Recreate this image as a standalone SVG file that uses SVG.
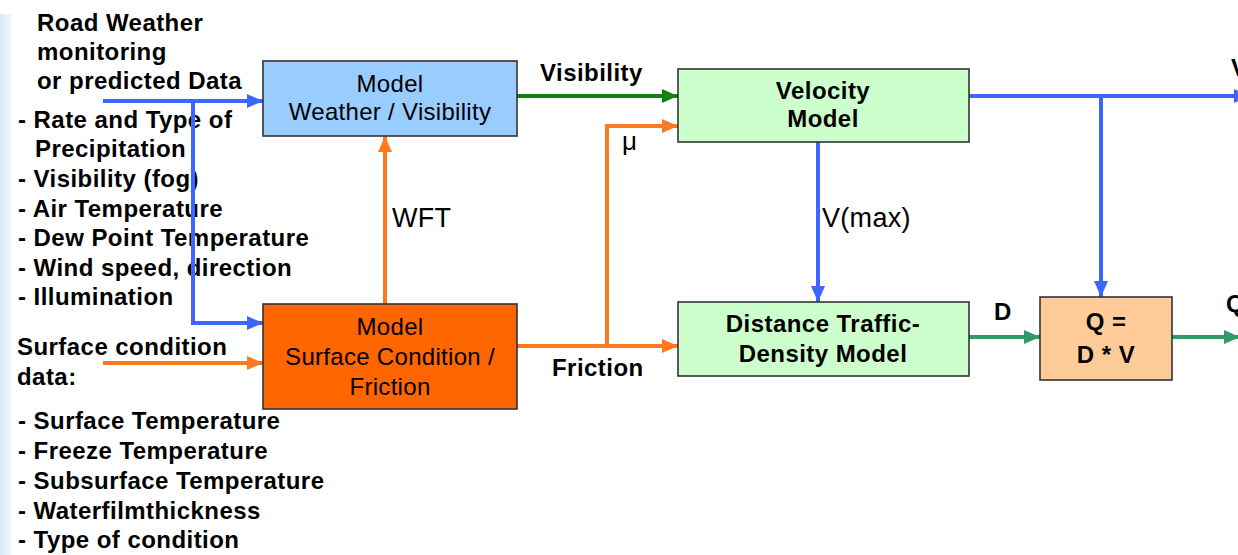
<svg xmlns="http://www.w3.org/2000/svg" width="1238" height="555" viewBox="0 0 1238 555">
<style>
.t{font-family:"Liberation Sans",Arial,sans-serif;font-size:24px;fill:#000;letter-spacing:0.3px}
.b{font-weight:bold;letter-spacing:0.45px}
.c{text-anchor:middle}
.box{stroke:#333;stroke-width:1.6}
.blue{fill:none;stroke:#3d66ff;stroke-width:4}
.org{fill:none;stroke:#ff7a1f;stroke-width:4}
.grn{fill:none;stroke:#138013;stroke-width:4}
.tea{fill:none;stroke:#339966;stroke-width:4}
</style>
<defs>
<linearGradient id="edge" x1="0" y1="0" x2="1" y2="0">
<stop offset="0" stop-color="#d3e8f7"/>
<stop offset="1" stop-color="#f4f9fd"/>
</linearGradient>
<marker id="ab" markerUnits="userSpaceOnUse" markerWidth="16" markerHeight="14" refX="16" refY="7" orient="auto"><path d="M0,0 L16,7 L0,14 z" fill="#3d66ff"/></marker>
<marker id="ao" markerUnits="userSpaceOnUse" markerWidth="16" markerHeight="14" refX="16" refY="7" orient="auto"><path d="M0,0 L16,7 L0,14 z" fill="#ff7a1f"/></marker>
<marker id="ag" markerUnits="userSpaceOnUse" markerWidth="16" markerHeight="14" refX="16" refY="7" orient="auto"><path d="M0,0 L16,7 L0,14 z" fill="#138013"/></marker>
<marker id="at" markerUnits="userSpaceOnUse" markerWidth="16" markerHeight="14" refX="16" refY="7" orient="auto"><path d="M0,0 L16,7 L0,14 z" fill="#339966"/></marker>
</defs>
<rect x="0" y="0" width="1238" height="555" fill="#fff"/>
<rect x="0" y="14" width="12" height="541" fill="url(#edge)"/>

<g id="inputs-weather">
<text class="t b" x="37" y="31">Road Weather</text>
<text class="t b" x="37" y="60">monitoring</text>
<text class="t b" x="37" y="89">or predicted Data</text>
<text class="t b" x="18" y="128">- Rate and Type of</text>
<text class="t b" x="35" y="157">Precipitation</text>
<text class="t b" x="18" y="187">- Visibility (fog)</text>
<text class="t b" x="18" y="217">- Air Temperature</text>
<text class="t b" x="18" y="246">- Dew Point Temperature</text>
<text class="t b" x="18" y="276">- Wind speed, direction</text>
<text class="t b" x="18" y="305">- Illumination</text>
</g>
<g id="inputs-surface">
<text class="t b" x="17" y="355">Surface condition</text>
<text class="t b" x="17" y="385">data:</text>
<text class="t b" x="18" y="429">- Surface Temperature</text>
<text class="t b" x="18" y="459">- Freeze Temperature</text>
<text class="t b" x="18" y="489">- Subsurface Temperature</text>
<text class="t b" x="18" y="519">- Waterfilmthickness</text>
<text class="t b" x="18" y="548">- Type of condition</text>
</g>

<g id="connectors">
<path class="blue" d="M103,101 H263" marker-end="url(#ab)"/>
<path class="blue" d="M193,101 V323 H263" marker-end="url(#ab)"/>
<path class="org" d="M103,363 H263" marker-end="url(#ao)"/>
<path class="org" d="M385,304 V136" marker-end="url(#ao)"/>
<path class="grn" d="M517,96 H678" marker-end="url(#ag)"/>
<path class="org" d="M517,346 H678" marker-end="url(#ao)"/>
<path class="org" d="M607,346 V126 H678" marker-end="url(#ao)"/>
<path class="blue" d="M969,96 H1250" marker-end="url(#ab)"/>
<path class="blue" d="M1101,96 V297" marker-end="url(#ab)"/>
<path class="blue" d="M818,142 V302" marker-end="url(#ab)"/>
<path class="tea" d="M969,337 H1040" marker-end="url(#at)"/>
<path class="tea" d="M1172,337 H1240" marker-end="url(#at)"/>
<text class="t b" x="540" y="81">Visibility</text>
<text class="t" x="392" y="227" style="font-size:27px">WFT</text>
<text class="t" x="622" y="150" style="font-size:26px">μ</text>
<text class="t b" x="552" y="376">Friction</text>
<text class="t" x="822" y="227" style="font-size:27px">V(max)</text>
<text class="t b" x="994" y="320">D</text>
<text class="t b" x="1231" y="76">V</text>
<text class="t b" x="1226" y="312">Q</text>
</g>

<g id="weather-model">
<rect class="box" x="263" y="61" width="254" height="75" fill="#99ccff"/>
<text class="t c" x="390" y="92">Model</text>
<text class="t c" x="390" y="120">Weather / Visibility</text>
</g>
<g id="surface-model">
<rect class="box" x="263" y="304" width="254" height="105" fill="#ff6600"/>
<text class="t c" x="390" y="335">Model</text>
<text class="t c" x="390" y="365">Surface Condition /</text>
<text class="t c" x="390" y="395">Friction</text>
</g>
<g id="velocity-model">
<rect class="box" x="678" y="69" width="291" height="73" fill="#ccffcc"/>
<text class="t b c" x="823" y="99">Velocity</text>
<text class="t b c" x="823" y="127">Model</text>
</g>
<g id="density-model">
<rect class="box" x="678" y="302" width="291" height="74" fill="#ccffcc"/>
<text class="t b c" x="823" y="332">Distance Traffic-</text>
<text class="t b c" x="823" y="362">Density Model</text>
</g>
<g id="flow">
<rect class="box" x="1040" y="297" width="132" height="83" fill="#ffcc99"/>
<text class="t b c" x="1106" y="330">Q =</text>
<text class="t b c" x="1106" y="363">D * V</text>
</g>
</svg>
